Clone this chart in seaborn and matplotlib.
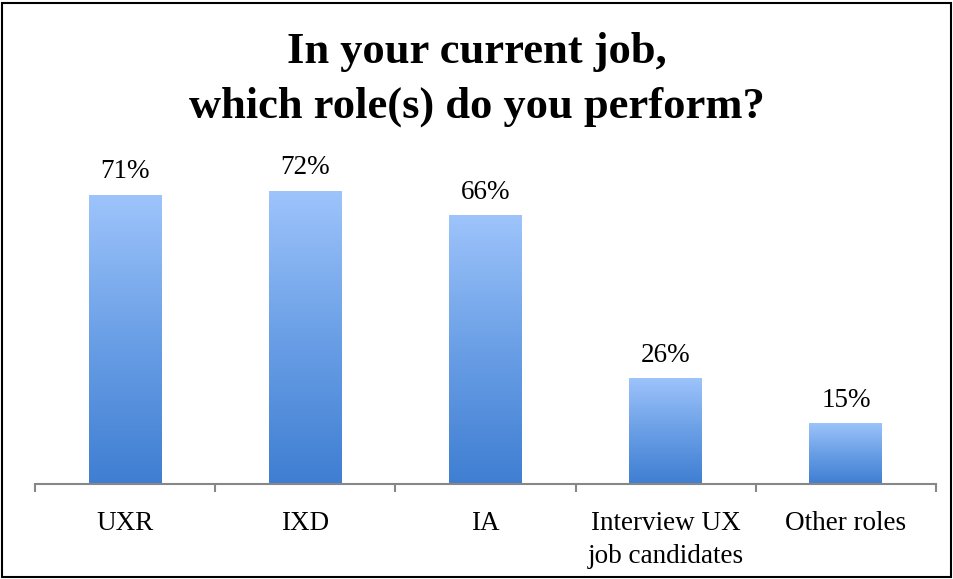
import numpy as np
import pandas as pd
import matplotlib
matplotlib.use("Agg")
import matplotlib.pyplot as plt
import seaborn as sns
from matplotlib.colors import LinearSegmentedColormap
from matplotlib.patches import Rectangle

# Survey results
roles = ["UXR", "IXD", "IA", "Interview UX\njob candidates", "Other roles"]
shares = [71, 72, 66, 26, 15]
title = "In your current job,\nwhich role(s) do you perform?"

sns.set_theme(style="white")
plt.rcParams["font.family"] = ["Liberation Serif", "DejaVu Serif"]
plt.rcParams["text.color"] = "#000000"
plt.rcParams["xtick.color"] = "#000000"

df = pd.DataFrame({"role": roles, "share": shares})

fig = plt.figure(figsize=(9.54, 5.79), dpi=100)
ax = fig.add_axes([0.0367, 0.1636, 0.9444, 0.5637])

sns.barplot(data=df, x="role", y="share", color="#6fa0e8", width=0.405,
            ax=ax, saturation=1)

ax.set_ylim(0, 80)
ax.set_xlim(-0.5, len(roles) - 0.5)

# vertical gradient fill for every bar, light on top, darker at the base
grad = LinearSegmentedColormap.from_list("bar", ["#3f7ed2", "#6a9fe6", "#9ec4fb"])
ramp = np.linspace(0, 1, 256).reshape(-1, 1)
for patch in ax.patches:
    x0, y0 = patch.get_x(), patch.get_y()
    w, h = patch.get_width(), patch.get_height()
    patch.set_facecolor("none")
    patch.set_edgecolor("none")
    im = ax.imshow(ramp, cmap=grad, aspect="auto", origin="lower",
                   extent=(x0, x0 + w, y0, y0 + h), zorder=2)
    im.set_clip_path(patch)

ax.set_xlim(-0.5, len(roles) - 0.5)
ax.set_ylim(0, 80)

# value labels above bars
for cont in ax.containers:
    ax.bar_label(cont, labels=[f"{v}%" for v in shares], padding=7.5,
                 fontsize=19.5, color="#000000")

# axes styling: only the baseline with boundary ticks
for side in ["left", "right", "top"]:
    ax.spines[side].set_visible(False)
ax.spines["bottom"].set_color("#878787")
ax.spines["bottom"].set_linewidth(1.5)
ax.set_yticks([])
ax.set_xlabel("")
ax.set_ylabel("")
ax.set_xticks(range(len(roles)))
ax.set_xticklabels(roles, fontsize=19.5, linespacing=1.45)
ax.set_xticks(np.arange(-0.5, len(roles)), minor=True)
ax.tick_params(axis="x", which="major", length=0, pad=19, colors="#000000")
ax.tick_params(axis="x", which="minor", length=6, width=1.5, color="#878787",
               bottom=True, direction="out")

fig.text(0.5, 1 - 118 / 579, title, ha="center", va="baseline",
         fontsize=32, fontweight="bold", linespacing=1.5, color="#000000")

# outer frame
fig.patches.append(Rectangle((0.002, 0.003), 0.995, 0.991, transform=fig.transFigure,
                             fill=False, edgecolor="#000000", linewidth=1.5))

fig.savefig("out.png", dpi=100)
